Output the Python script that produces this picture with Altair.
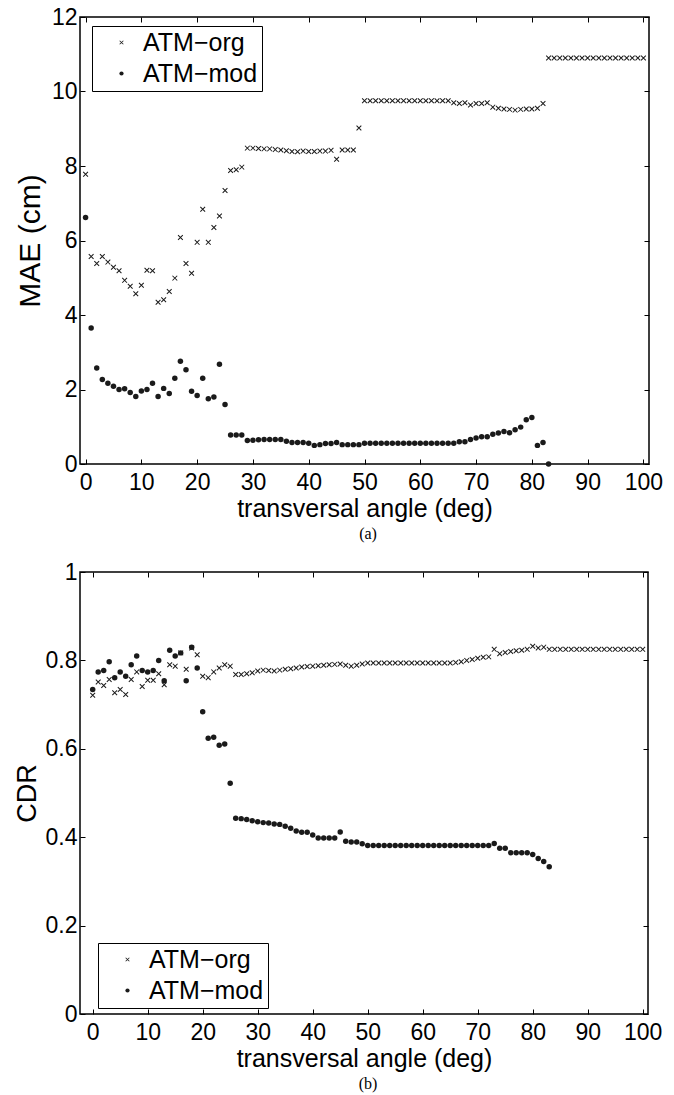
import altair as alt
import pandas as pd

# ---------------- data ----------------
ANGLES_ORG = list(range(0, 101))
ANGLES_MOD = list(range(0, 84))

MAE_ORG = [
    7.78, 5.57, 5.38, 5.57, 5.42, 5.28, 5.19, 4.93, 4.77, 4.57,
    4.80, 5.20, 5.19, 4.34, 4.41, 4.63, 4.99, 6.08, 5.38, 5.12,
    5.95, 6.84, 5.95, 6.35, 6.66, 7.34, 7.88, 7.90, 7.97, 8.48,
    8.48, 8.47, 8.46, 8.46, 8.44, 8.43, 8.41, 8.39, 8.38, 8.40,
    8.39, 8.39, 8.40, 8.40, 8.42, 8.18, 8.43, 8.43, 8.43, 9.02,
    9.75, 9.75, 9.75, 9.75, 9.75, 9.75, 9.75, 9.75, 9.75, 9.75,
    9.75, 9.75, 9.75, 9.75, 9.75, 9.75, 9.70, 9.68, 9.70, 9.64,
    9.68, 9.68, 9.70, 9.58, 9.55, 9.53, 9.52, 9.50, 9.52, 9.53,
    9.53, 9.55, 9.68, 10.9, 10.9, 10.9, 10.9, 10.9, 10.9, 10.9,
    10.9, 10.9, 10.9, 10.9, 10.9, 10.9, 10.9, 10.9, 10.9, 10.9,
    10.9,
]

MAE_MOD = [
    6.62, 3.65, 2.58, 2.27, 2.17, 2.09, 2.00, 2.02, 1.92, 1.81,
    1.96, 2.00, 2.17, 1.81, 2.03, 1.89, 2.30, 2.76, 2.53, 1.95,
    1.84, 2.30, 1.75, 1.80, 2.68, 1.60, 0.78, 0.78, 0.78, 0.63,
    0.64, 0.65, 0.66, 0.66, 0.66, 0.66, 0.61, 0.58, 0.58, 0.58,
    0.56, 0.50, 0.52, 0.55, 0.55, 0.58, 0.52, 0.52, 0.52, 0.52,
    0.56, 0.56, 0.56, 0.56, 0.56, 0.56, 0.56, 0.56, 0.56, 0.56,
    0.56, 0.56, 0.56, 0.56, 0.56, 0.56, 0.56, 0.60, 0.60, 0.66,
    0.70, 0.73, 0.73, 0.80, 0.83, 0.87, 0.84, 0.92, 0.99, 1.19,
    1.25, 0.50, 0.58, 0.0,
]

CDR_ORG = [
    0.721, 0.751, 0.743, 0.757, 0.727, 0.734, 0.723, 0.757, 0.774, 0.741,
    0.755, 0.755, 0.770, 0.745, 0.790, 0.787, 0.817, 0.780, 0.828, 0.813,
    0.764, 0.761, 0.774, 0.783, 0.790, 0.787, 0.768, 0.768, 0.770, 0.772,
    0.776, 0.778, 0.777, 0.776, 0.778, 0.780, 0.781, 0.783, 0.785, 0.786,
    0.787, 0.788, 0.789, 0.790, 0.791, 0.792, 0.789, 0.787, 0.789, 0.792,
    0.794, 0.794, 0.794, 0.794, 0.794, 0.794, 0.794, 0.794, 0.794, 0.794,
    0.794, 0.794, 0.794, 0.794, 0.794, 0.794, 0.795, 0.797, 0.800, 0.802,
    0.805, 0.807, 0.808, 0.825, 0.815, 0.818, 0.820, 0.822, 0.823, 0.825,
    0.832, 0.828, 0.830, 0.825, 0.825, 0.825, 0.825, 0.825, 0.825, 0.825,
    0.825, 0.825, 0.825, 0.825, 0.825, 0.825, 0.825, 0.825, 0.825, 0.825,
    0.825,
]

CDR_MOD = [
    0.734, 0.774, 0.777, 0.797, 0.761, 0.774, 0.764, 0.790, 0.810, 0.777,
    0.774, 0.777, 0.800, 0.754, 0.823, 0.810, 0.817, 0.754, 0.830, 0.783,
    0.684, 0.624, 0.626, 0.608, 0.611, 0.522, 0.443, 0.442, 0.440, 0.437,
    0.435, 0.433, 0.432, 0.430, 0.429, 0.425, 0.420, 0.414, 0.411, 0.411,
    0.405, 0.398, 0.398, 0.398, 0.398, 0.412, 0.391, 0.389, 0.389, 0.385,
    0.381, 0.381, 0.381, 0.381, 0.381, 0.381, 0.381, 0.381, 0.381, 0.381,
    0.381, 0.381, 0.381, 0.381, 0.381, 0.381, 0.381, 0.381, 0.381, 0.381,
    0.381, 0.381, 0.381, 0.386, 0.375, 0.375, 0.365, 0.365, 0.365, 0.365,
    0.361, 0.352, 0.345, 0.333,
]

SERIES = ["ATM\u2212org", "ATM\u2212mod"]
X_TICKS = [0, 10, 20, 30, 40, 50, 60, 70, 80, 90, 100]
MAE_TICKS = [0, 2, 4, 6, 8, 10, 12]
CDR_TICKS = [0, 0.2, 0.4, 0.6, 0.8, 1]

FONT = "Liberation Sans"
INK = "#1a1a1a"
# an "x" drawn as two thin filled bars (so it shows with fill, also in the legend)
CROSS = ("M-1,-0.74L0.74,1L1,0.74L-0.74,-1Z"
         "M-1,0.74L-0.74,1L1,-0.74L0.74,-1Z")


def panel(org, mod, ytitle, ydomain, yticks, yfmt, xdomain, width, height,
          legend_xy, caption, cap_x, ytitle_x, ytitle_size):
    df = pd.DataFrame({
        "angle": ANGLES_ORG + ANGLES_MOD,
        "value": org + mod,
        "series": [SERIES[0]] * len(org) + [SERIES[1]] * len(mod),
    })
    xscale = alt.Scale(domain=xdomain, nice=False, zero=False)
    yscale = alt.Scale(domain=ydomain, nice=False, zero=False)

    pts = alt.Chart(df).mark_point(
        filled=True, size=30, color=INK, opacity=1
    ).encode(
        x=alt.X("angle:Q", scale=xscale, axis=alt.Axis(
            orient="bottom", values=X_TICKS, title="transversal angle (deg)",
            offset=-5, tickSize=5, domain=False, grid=False, labelPadding=7,
            labelFlush=False, labelOverlap=False, titleY=49,
            titleBaseline="middle")),
        y=alt.Y("value:Q", scale=yscale, axis=alt.Axis(
            orient="left", values=yticks, title=ytitle, format=yfmt,
            offset=-5, tickSize=5, domain=False, grid=False, labelPadding=3,
            labelOverlap=False, labelFlush=False, titleFontSize=ytitle_size,
            titleAngle=270, titleX=ytitle_x, titleY=height / 2,
            titleBaseline="middle", titleAlign="center")),
        shape=alt.Shape("series:N", scale=alt.Scale(
            domain=SERIES, range=[CROSS, "circle"]), legend=alt.Legend(
            title=None, orient="none", legendX=legend_xy[0],
            legendY=legend_xy[1], strokeColor="black", fillColor="white",
            padding=4, labelFont=FONT, labelFontSize=25, labelColor="black",
            symbolSize=18, symbolFillColor=INK, symbolStrokeWidth=0,
            symbolOffset=13, labelOffset=9, rowPadding=5)),
    )

    frame_axes = alt.Chart(df).mark_point(opacity=0).encode(
        x=alt.X("angle:Q", scale=xscale, axis=alt.Axis(
            orient="top", values=X_TICKS, title=None, labels=False,
            offset=-5, tickSize=5, domain=False, grid=False)),
        y=alt.Y("value:Q", scale=yscale, axis=alt.Axis(
            orient="right", values=yticks, title=None, labels=False,
            offset=-5, tickSize=5, domain=False, grid=False)),
    )

    cap = alt.Chart(pd.DataFrame({"cap": [caption]})).mark_text(
        font="Liberation Serif", fontSize=16, color="black", baseline="middle",
        align="center"
    ).encode(
        x=alt.value(cap_x), y=alt.value(height + 70), text="cap:N"
    )

    return alt.layer(pts, frame_axes, cap).resolve_axis(
        x="independent", y="independent"
    ).properties(width=width, height=height)


top = panel(MAE_ORG, MAE_MOD, "MAE (cm)", [0, 12], MAE_TICKS, "d",
            [-1, 101], 569, 447, (12, 9), "(a)", 288, -55, 30)
bottom = panel(CDR_ORG, CDR_MOD, "CDR", [0, 1], CDR_TICKS, "~g",
               [-2.31, 100.96], 568, 442, (18, 371), "(b)", 288, -58, 27)

chart = alt.vconcat(top, bottom, spacing=17).resolve_scale(
    x="independent", y="independent", shape="independent"
).resolve_legend(shape="independent").properties(
    padding={"left": 12, "top": 5, "right": 0, "bottom": 0},
    background="white",
).configure_view(
    stroke="black", strokeWidth=1.5
).configure_axis(
    labelFont=FONT, labelFontSize=23, labelColor="black",
    titleFont=FONT, titleFontSize=25, titleFontWeight="normal",
    titleColor="black", tickColor="black", tickWidth=1,
)

chart.save("out.html", embed_options={"renderer": "svg", "actions": False})
